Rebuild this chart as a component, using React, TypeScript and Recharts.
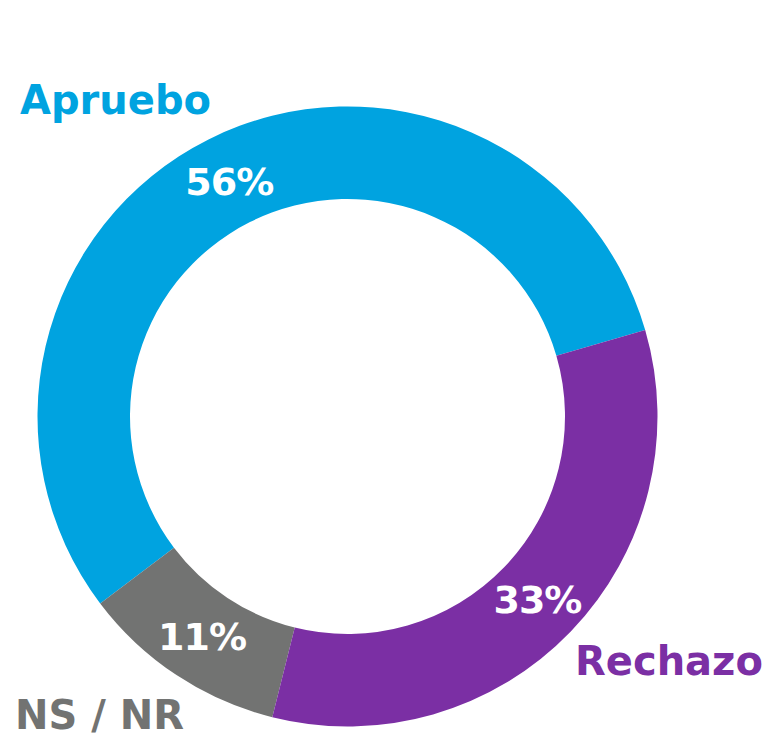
import React from 'react';
import { PieChart, Pie, Cell } from 'recharts';

// Data (counter-clockwise order starting from the Apruebo/Rechazo boundary)
const categories = ['Apruebo', 'NS / NR', 'Rechazo'];
const shares = [55.8, 10.8, 33.4];
const colors = ['#00A3E0', '#727372', '#7B2FA4'];

const data = categories.map((name, i) => ({ name, value: shares[i] }));

// Layout of the category names (offset of text start / baseline from the pie centre)
const NAME_OFFSETS = [
  { dx: -327.5, dy: -302.5 },
  { dx: -332.5, dy: 312.5 },
  { dx: 227.5, dy: 258.5 },
];

const FONT = '"DejaVu Sans", "Noto Sans", sans-serif';
const RADIAN = Math.PI / 180;

const renderLabel = (props: any) => {
  const { cx, cy, midAngle, innerRadius, outerRadius, value, index } = props;
  const r = (innerRadius + outerRadius) / 2;
  const x = cx + r * Math.cos(-midAngle * RADIAN);
  const y = cy + r * Math.sin(-midAngle * RADIAN);
  const off = NAME_OFFSETS[index];
  return (
    <g>
      <text
        x={x}
        y={y + 14}
        textAnchor="middle"
        fill="#ffffff"
        fontFamily={FONT}
        fontWeight={700}
        fontSize={38}
        letterSpacing={-1}
      >
        {`${Math.round(value)}%`}
      </text>
      <text
        x={cx + off.dx}
        y={cy + off.dy}
        textAnchor="start"
        fill={colors[index]}
        fontFamily={FONT}
        fontWeight={700}
        fontSize={40}
      >
        {categories[index]}
      </text>
    </g>
  );
};

export default function App() {
  return (
    <div style={{ position: 'absolute', left: 0, top: 0, width: 767, height: 734, background: '#ffffff' }}>
      <PieChart width={767} height={734} margin={{ top: 0, right: 0, bottom: 0, left: 0 }}>
        <Pie
          data={data}
          dataKey="value"
          nameKey="name"
          cx={347.5}
          cy={416.5}
          innerRadius={217.5}
          outerRadius={310}
          startAngle={16.2}
          endAngle={376.2}
          stroke="none"
          label={renderLabel}
          labelLine={false}
          isAnimationActive={false}
        >
          {data.map((d, i) => (
            <Cell key={d.name} fill={colors[i]} stroke="none" />
          ))}
        </Pie>
      </PieChart>
    </div>
  );
}
